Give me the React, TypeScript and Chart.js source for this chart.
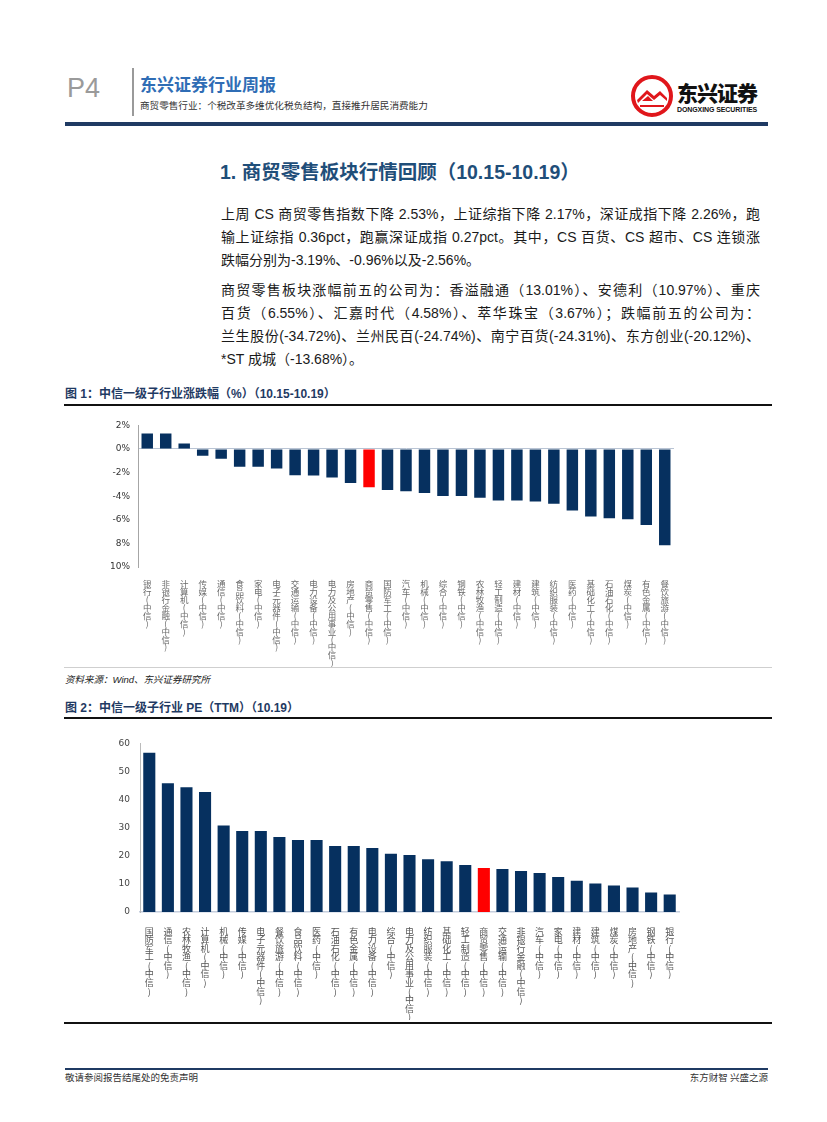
import React, { useEffect, useRef } from "react";
import { Chart, registerables } from "chart.js";

Chart.register(...registerables);

// ---------- Data ----------
const changeCategories = [
  "银行(中信)", "非银行金融(中信)", "计算机(中信)", "传媒(中信)", "通信(中信)",
  "食品饮料(中信)", "家电(中信)", "电子元器件(中信)", "交通运输(中信)", "电力设备(中信)",
  "电力及公用事业(中信)", "房地产(中信)", "商贸零售(中信)", "国防军工(中信)", "汽车(中信)",
  "机械(中信)", "综合(中信)", "钢铁(中信)", "农林牧渔(中信)", "轻工制造(中信)",
  "建材(中信)", "建筑(中信)", "纺织服装(中信)", "医药(中信)", "基础化工(中信)",
  "石油石化(中信)", "煤炭(中信)", "有色金属(中信)", "餐饮旅游(中信)",
];
const changeValues = [
  1.32, 1.32, 0.47, -0.58, -0.82, -1.51, -1.51, -1.65, -2.22, -2.25,
  -2.41, -2.88, -3.24, -3.48, -3.57, -3.73, -3.98, -3.98, -4.14, -4.36,
  -4.36, -4.44, -4.64, -5.21, -5.71, -5.87, -5.95, -6.45, -8.15,
];
const changeTickValues = [2, 0, -2, -4, -6, -8, -10];
const changeTickLabels = ["2%", "0%", "-2%", "-4%", "-6%", "8%", "10%"];

const peCategories = [
  "国防军工(中信)", "通信(中信)", "农林牧渔(中信)", "计算机(中信)", "机械(中信)",
  "传媒(中信)", "电子元器件(中信)", "餐饮旅游(中信)", "食品饮料(中信)", "医药(中信)",
  "石油石化(中信)", "有色金属(中信)", "电力设备(中信)", "综合(中信)", "电力及公用事业(中信)",
  "纺织服装(中信)", "基础化工(中信)", "轻工制造(中信)", "商贸零售(中信)", "交通运输(中信)",
  "非银行金融(中信)", "汽车(中信)", "家电(中信)", "建材(中信)", "建筑(中信)",
  "煤炭(中信)", "房地产(中信)", "钢铁(中信)", "银行(中信)",
];
const peValues = [
  56.7, 45.8, 44.4, 42.7, 30.8, 28.8, 28.8, 26.7, 25.6, 25.6,
  23.5, 23.5, 22.8, 20.7, 20.3, 18.8, 18.1, 16.7, 15.7, 15.3,
  14.6, 13.9, 12.5, 11.1, 10.1, 9.4, 8.7, 6.9, 6.2,
];
const peTickLabels = ["0", "10", "20", "30", "40", "50", "60"];

const highlight = "商贸零售(中信)";

const NAVY = "#06305F";
const RED = "#FF0000";
const CJK = "'Noto Sans CJK SC', sans-serif";

function ChangeChart() {
  const ref = useRef<HTMLCanvasElement | null>(null);
  useEffect(() => {
    const c = ref.current!;
    const chart = new Chart(c, {
      type: "bar",
      data: {
        labels: changeCategories.map((s) => Array.from(s)),
        datasets: [
          {
            data: changeValues,
            backgroundColor: changeCategories.map((n) => (n === highlight ? RED : NAVY)),
            barPercentage: 0.62,
            categoryPercentage: 1,
          },
        ],
      },
      options: {
        animation: false,
        responsive: false,
        maintainAspectRatio: false,
        layout: { padding: { top: 10, right: 98, left: 0, bottom: 0 } },
        plugins: { legend: { display: false }, tooltip: { enabled: false } },
        scales: {
          x: {
            position: "bottom",
            grid: { display: false },
            border: { display: false },
            ticks: {
              autoSkip: false,
              maxRotation: 0,
              minRotation: 0,
              padding: 5,
              color: "#6a6a6a",
              font: { family: CJK, size: 8.5, lineHeight: 0.93 },
            },
            afterFit: (s: any) => {
              s.height = 103;
            },
          },
          y: {
            min: -10,
            max: 2,
            afterBuildTicks: (s: any) => {
              s.ticks = changeTickValues.slice().reverse().map((v) => ({ value: v }));
            },
            grid: {
              drawTicks: false,
              color: (ctx: any) => (ctx.tick && ctx.tick.value === 0 ? "#B9C4D4" : "transparent"),
              lineWidth: 1,
            },
            border: { display: true, color: "#A6A6A6", width: 1 },
            ticks: {
              padding: 8,
              color: "#333",
              font: { family: "'DejaVu Sans', sans-serif", size: 9 },
              callback: (v: any) => {
                const i = changeTickValues.indexOf(Number(v));
                return i >= 0 ? changeTickLabels[i] : "";
              },
            },
            afterFit: (s: any) => {
              s.width = 74;
            },
          },
        },
      },
    });
    return () => chart.destroy();
  }, []);
  return (
    <canvas
      ref={ref}
      width={708}
      height={258}
      style={{ position: "absolute", left: 64, top: 412, width: 708, height: 258 }}
    />
  );
}

function PEChart() {
  const ref = useRef<HTMLCanvasElement | null>(null);
  useEffect(() => {
    const c = ref.current!;
    const chart = new Chart(c, {
      type: "bar",
      data: {
        labels: peCategories.map((s) => Array.from(s)),
        datasets: [
          {
            data: peValues,
            backgroundColor: peCategories.map((n) => (n === highlight ? RED : NAVY)),
            barPercentage: 0.65,
            categoryPercentage: 1,
          },
        ],
      },
      options: {
        animation: false,
        responsive: false,
        maintainAspectRatio: false,
        layout: { padding: { top: 13, right: 93, left: 0, bottom: 0 } },
        plugins: { legend: { display: false }, tooltip: { enabled: false } },
        scales: {
          x: {
            grid: { display: false },
            border: { display: true, color: "#C5CEDD", width: 1.5 },
            ticks: {
              autoSkip: false,
              maxRotation: 0,
              minRotation: 0,
              padding: 7,
              color: "#555",
              font: { family: CJK, size: 9, lineHeight: 0.95 },
            },
            afterFit: (s: any) => {
              s.height = 108;
            },
          },
          y: {
            min: 0,
            max: 60,
            ticks: {
              stepSize: 10,
              padding: 10,
              color: "#444",
              font: { family: "'DejaVu Sans', sans-serif", size: 9 },
              callback: (v: any) => peTickLabels[Math.round(Number(v) / 10)] ?? "",
            },
            grid: { display: false, drawTicks: false },
            border: { display: true, color: "#BBBBBB", width: 1 },
            afterFit: (s: any) => {
              s.width = 76;
            },
          },
        },
      },
    });
    return () => chart.destroy();
  }, []);
  return (
    <canvas
      ref={ref}
      width={708}
      height={292}
      style={{ position: "absolute", left: 64, top: 728, width: 708, height: 292 }}
    />
  );
}

const abs = (x: number, y: number, extra: React.CSSProperties = {}): React.CSSProperties => ({
  position: "absolute",
  left: x,
  top: y,
  whiteSpace: "nowrap",
  ...extra,
});

const bodyFont = "'Liberation Sans', 'Noto Sans CJK SC', sans-serif";

const para1 = [
  "上周 CS 商贸零售指数下降 2.53%，上证综指下降 2.17%，深证成指下降 2.26%，跑",
  "输上证综指 0.36pct，跑赢深证成指 0.27pct。其中，CS 百货、CS 超市、CS 连锁涨",
  "跌幅分别为-3.19%、-0.96%以及-2.56%。",
];
const para2 = [
  "商贸零售板块涨幅前五的公司为：香溢融通（13.01%）、安德利（10.97%）、重庆",
  "百货（6.55%）、汇嘉时代（4.58%）、萃华珠宝（3.67%）；跌幅前五的公司为：",
  "兰生股份(-34.72%)、兰州民百(-24.74%)、南宁百货(-24.31%)、东方创业(-20.12%)、",
  "*ST 成城（-13.68%）。",
];

function BodyLine({ text, y, last }: { text: string; y: number; last: boolean }) {
  return (
    <div
      style={{
        position: "absolute",
        left: 221,
        top: y - 10,
        width: 539,
        height: 20,
        lineHeight: "20px",
        fontFamily: bodyFont,
        fontSize: 14,
        color: "#1a1a1a",
        whiteSpace: "nowrap",
        textAlign: last ? "left" : "justify",
        textAlignLast: last ? "left" : "justify",
      } as React.CSSProperties}
    >
      {text}
    </div>
  );
}

function Logo() {
  return (
    <div style={abs(630, 74)}>
      <svg width={44} height={44} viewBox="0 0 44 44" style={{ position: "absolute", left: 0, top: 0 }}>
        <circle cx={22} cy={22} r={19} fill="#fff" stroke="#E0161B" strokeWidth={4} />
        <path d="M7 26 L17 16 L24 22 L30 17 L37 24 L37 27 L30 21 L24 26 L17 20 L8 29 Z" fill="#E0161B" />
        <path d="M10 31 L34 31 L34 33 L10 33 Z" fill="#E0161B" />
        <path d="M12 27 L18 22 L23 27 Z" fill="#E0161B" />
      </svg>
      <div
        style={abs(47, 6, {
          fontFamily: CJK,
          fontWeight: 900,
          fontSize: 21,
          lineHeight: "24px",
          color: "#111",
          letterSpacing: -1,
        })}
      >
        东兴证券
      </div>
      <div
        style={abs(47, 31, {
          fontFamily: "'Liberation Sans', sans-serif",
          fontWeight: 700,
          fontSize: 7,
          lineHeight: "9px",
          color: "#111",
          letterSpacing: -0.1,
        })}
      >
        DONGXING SECURITIES
      </div>
    </div>
  );
}

export default function App() {
  return (
    <div
      style={{
        position: "absolute",
        left: 0,
        top: 0,
        width: 827,
        height: 1122,
        background: "#fff",
        overflow: "hidden",
      }}
    >
      {/* Header */}
      <div style={abs(67, 72, { fontFamily: "'Liberation Sans', sans-serif", fontSize: 27, lineHeight: "32px", color: "#9a9a9a" })}>
        P4
      </div>
      <div style={{ position: "absolute", left: 132, top: 68, width: 2, height: 48, background: "#9a9a9a" }} />
      <div
        style={abs(140, 73, {
          fontFamily: CJK,
          fontWeight: 700,
          fontSize: 17,
          lineHeight: "22px",
          color: "#2F6DB5",
        })}
      >
        东兴证券行业周报
      </div>
      <div style={abs(140, 99, { fontFamily: CJK, fontSize: 9.6, lineHeight: "13px", color: "#333" })}>
        商贸零售行业：个税改革多维优化税负结构，直接推升居民消费能力
      </div>
      <Logo />
      <div style={{ position: "absolute", left: 65, top: 122, width: 703, height: 4, background: "#1F3A63" }} />

      {/* Section title */}
      <div
        style={abs(220, 160, {
          fontFamily: "'Liberation Sans', 'Noto Sans CJK SC', sans-serif",
          fontWeight: 700,
          fontSize: 19.5,
          lineHeight: "24px",
          color: "#1F4E79",
        })}
      >
        1. 商贸零售板块行情回顾（10.15-10.19）
      </div>

      {para1.map((t, i) => (
        <BodyLine key={"a" + i} text={t} y={214 + i * 23} last={i === para1.length - 1} />
      ))}
      {para2.map((t, i) => (
        <BodyLine key={"b" + i} text={t} y={290 + i * 23} last={i === para2.length - 1} />
      ))}

      {/* Figure 1 */}
      <div
        style={abs(65, 386, {
          fontFamily: "'Liberation Sans', 'Noto Sans CJK SC', sans-serif",
          fontWeight: 700,
          fontSize: 12,
          lineHeight: "16px",
          color: "#1F3A63",
        })}
      >
        图 1：中信一级子行业涨跌幅（%）（10.15-10.19）
      </div>
      <div style={{ position: "absolute", left: 64, top: 404, width: 708, height: 2, background: "#111" }} />
      <ChangeChart />
      <div style={{ position: "absolute", left: 64, top: 667, width: 708, height: 1, background: "#cfcfcf" }} />
      <div
        style={abs(65, 673, {
          fontFamily: "'Liberation Sans', 'Noto Sans CJK SC', sans-serif",
          fontStyle: "italic",
          fontSize: 9.5,
          lineHeight: "13px",
          color: "#222",
        })}
      >
        资料来源：Wind、东兴证券研究所
      </div>

      {/* Figure 2 */}
      <div
        style={abs(65, 700, {
          fontFamily: "'Liberation Sans', 'Noto Sans CJK SC', sans-serif",
          fontWeight: 700,
          fontSize: 12,
          lineHeight: "16px",
          color: "#1F3A63",
        })}
      >
        图 2：中信一级子行业 PE（TTM）（10.19）
      </div>
      <div style={{ position: "absolute", left: 64, top: 717, width: 708, height: 2, background: "#111" }} />
      <PEChart />
      <div style={{ position: "absolute", left: 64, top: 1022, width: 708, height: 2, background: "#111" }} />

      {/* Footer */}
      <div style={{ position: "absolute", left: 65, top: 1068, width: 703, height: 2, background: "#1F3A63" }} />
      <div style={abs(65, 1071, { fontFamily: CJK, fontSize: 9.5, lineHeight: "13px", color: "#333" })}>
        敬请参阅报告结尾处的免责声明
      </div>
      <div
        style={{
          position: "absolute",
          right: 827 - 768,
          top: 1071,
          fontFamily: CJK,
          fontSize: 9.5,
          lineHeight: "13px",
          color: "#333",
          whiteSpace: "nowrap",
        }}
      >
        东方财智 兴盛之源
      </div>
    </div>
  );
}
